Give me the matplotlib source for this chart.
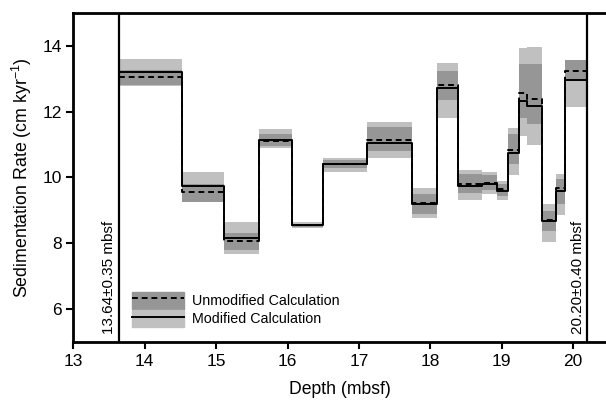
import numpy as np
from matplotlib import pyplot as plt
from matplotlib.patches import Patch
from matplotlib.lines import Line2D

plt.rcParams['font.family'] = ['Liberation Sans', 'DejaVu Sans']
plt.rcParams['mathtext.default'] = 'regular'

# depth interval edges (mbsf)
edges = [13.64, 14.52, 15.11, 15.60, 16.06, 16.50, 17.11, 17.75, 18.09, 18.39,
         18.72, 18.94, 19.09, 19.24, 19.36, 19.56, 19.76, 19.89, 20.20]

# modified calculation (solid line, light band)
mod_rate = [13.19, 9.74, 8.16, 11.14, 8.55, 10.40, 11.06, 9.18, 12.73, 9.74,
            9.79, 9.59, 10.73, 12.33, 12.17, 8.69, 9.59, 12.96]
mod_lo = [12.78, 9.30, 7.66, 10.89, 8.47, 10.17, 10.58, 8.77, 11.82, 9.33,
          9.50, 9.33, 10.07, 11.26, 10.99, 8.04, 8.86, 12.14]
mod_hi = [13.60, 10.17, 8.64, 11.46, 8.65, 10.58, 11.69, 9.69, 13.47, 10.22,
          10.17, 9.89, 11.51, 13.93, 13.97, 9.20, 10.09, 13.50]

# unmodified calculation (dashed line, dark band)
unmod_rate = [13.04, 9.56, 8.06, 11.11, 8.55, 10.42, 11.14, 9.23, 12.80, 9.81,
              9.84, 9.64, 10.83, 12.56, 12.38, 8.72, 9.67, 13.24]
unmod_lo = [12.81, 9.26, 7.81, 10.96, 8.49, 10.30, 10.80, 8.89, 12.36, 9.53,
            9.61, 9.43, 10.40, 11.82, 11.62, 8.37, 9.18, 12.94]
unmod_hi = [13.26, 9.79, 8.32, 11.31, 8.60, 10.52, 11.54, 9.50, 13.22, 10.10,
            10.07, 9.81, 11.33, 13.44, 13.44, 8.98, 9.94, 13.56]

bounds = [13.64, 20.20]
bound_labels = ['13.64\u00b10.35 mbsf', '20.20\u00b10.40 mbsf']

light = '#c0c0c0'
dark = '#969696'


def stepped(v):
    return np.append(v, v[-1])


fig = plt.figure(figsize=(6.06, 4.01), dpi=100)
ax = fig.add_axes([0.121, 0.147, 0.879, 0.821])

x = np.array(edges)
ax.fill_between(x, stepped(mod_lo), stepped(mod_hi), step='post',
                color=light, lw=0, zorder=1)
ax.fill_between(x, stepped(unmod_lo), stepped(unmod_hi), step='post',
                color=dark, lw=0, zorder=2)
ax.step(x, stepped(mod_rate), where='post', color='black', lw=1.4, zorder=3)
ax.step(x, stepped(unmod_rate), where='post', color='black', lw=1.4,
        ls=(0, (3, 2)), zorder=4)

for b, lab in zip(bounds, bound_labels):
    ax.axvline(b, color='black', lw=1.6, zorder=5)
    ax.text(b - 0.04, 5.25, lab, rotation=90, ha='right', va='bottom',
            fontsize=11)

ax.set_xlim(13, 20.46)
ax.set_ylim(5, 15)
ax.set_xticks(range(13, 21))
ax.set_yticks([6, 8, 10, 12, 14])
ax.tick_params(direction='out', length=5, width=1.5, labelsize=12.5)
for s in ['left', 'bottom', 'top']:
    ax.spines[s].set_linewidth(2)
ax.spines['right'].set_visible(False)

ax.set_xlabel('Depth (mbsf)', fontsize=12.7, labelpad=9)
ax.set_ylabel('Sedimentation Rate (cm kyr$^{-1}$)', fontsize=12.8, labelpad=6)

handles = [(Patch(color=dark), Line2D([], [], color='black', lw=1.4, ls=(0, (3, 2)))),
           (Patch(color=light), Line2D([], [], color='black', lw=1.4))]
ax.legend(handles, ['Unmodified Calculation', 'Modified Calculation'],
          loc='lower left', bbox_to_anchor=(0.111, 0.045), borderaxespad=0,
          borderpad=0, frameon=False, fontsize=10.3, handlelength=3.6,
          handleheight=1.45, handletextpad=0.55, labelspacing=0.1)

fig.savefig('out.png', dpi=100)
